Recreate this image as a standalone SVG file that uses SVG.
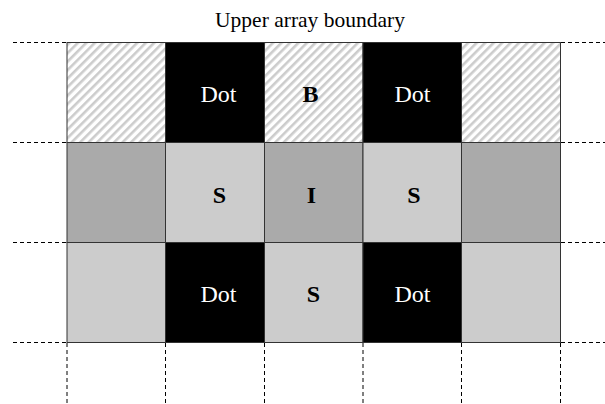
<svg xmlns="http://www.w3.org/2000/svg" width="605" height="404" viewBox="0 0 605 404">
<defs>
<pattern id="hatch" width="6" height="6" patternUnits="userSpaceOnUse" patternTransform="rotate(45)">
<rect width="6" height="6" fill="#ffffff"/>
<rect x="0" y="0" width="2.6" height="6" fill="#cccccc"/>
</pattern>
</defs>
<style>
.cell{stroke:#333333;stroke-width:1}
.hatch{fill:url(#hatch)}
.black{fill:#000000}
.dark{fill:#aaaaaa}
.light{fill:#cccccc}
.dash{stroke:#000000;stroke-width:1;stroke-dasharray:4,3;fill:none}
.lbl{font-family:"Liberation Serif","Times New Roman",serif;font-size:24px;text-anchor:middle}
.dot{fill:#ffffff}
.bold{font-weight:bold;fill:#000000}
.title{font-family:"Liberation Serif","Times New Roman",serif;font-size:21.5px;text-anchor:middle;fill:#000000}
</style>
<text class="title" x="310" y="26.5">Upper array boundary</text>
<g id="connectors">
<line class="dash" x1="13" y1="42.5" x2="67" y2="42.5"/>
<line class="dash" x1="13" y1="142.5" x2="67" y2="142.5"/>
<line class="dash" x1="13" y1="242.5" x2="67" y2="242.5"/>
<line class="dash" x1="13" y1="342.5" x2="67" y2="342.5"/>
<line class="dash" x1="561" y1="42.5" x2="605" y2="42.5"/>
<line class="dash" x1="561" y1="142.5" x2="605" y2="142.5"/>
<line class="dash" x1="561" y1="242.5" x2="605" y2="242.5"/>
<line class="dash" x1="561" y1="342.5" x2="605" y2="342.5"/>
<line class="dash" x1="67" y1="343" x2="67" y2="404"/>
<line class="dash" x1="165.5" y1="343" x2="165.5" y2="404"/>
<line class="dash" x1="264.5" y1="343" x2="264.5" y2="404"/>
<line class="dash" x1="363" y1="343" x2="363" y2="404"/>
<line class="dash" x1="461.5" y1="343" x2="461.5" y2="404"/>
<line class="dash" x1="560.5" y1="343" x2="560.5" y2="404"/>
</g>
<g id="r1c1"><rect class="cell hatch" x="67" y="42.5" width="98.5" height="100"/></g>
<g id="r1c2"><rect class="cell black" x="165.5" y="42.5" width="99" height="100"/><text class="lbl dot" x="218.5" y="101.5">Dot</text></g>
<g id="r1c3"><rect class="cell hatch" x="264.5" y="42.5" width="98.5" height="100"/><text class="lbl bold" x="310.5" y="101.5">B</text></g>
<g id="r1c4"><rect class="cell black" x="363" y="42.5" width="98.5" height="100"/><text class="lbl dot" x="412.5" y="101.5">Dot</text></g>
<g id="r1c5"><rect class="cell hatch" x="461.5" y="42.5" width="99" height="100"/></g>
<g id="r2c1"><rect class="cell dark" x="67" y="142.5" width="98.5" height="100"/></g>
<g id="r2c2"><rect class="cell light" x="165.5" y="142.5" width="99" height="100"/><text class="lbl bold" x="219.5" y="202.5">S</text></g>
<g id="r2c3"><rect class="cell dark" x="264.5" y="142.5" width="98.5" height="100"/><text class="lbl bold" x="311.5" y="202.5">I</text></g>
<g id="r2c4"><rect class="cell light" x="363" y="142.5" width="98.5" height="100"/><text class="lbl bold" x="414" y="202.5">S</text></g>
<g id="r2c5"><rect class="cell dark" x="461.5" y="142.5" width="99" height="100"/></g>
<g id="r3c1"><rect class="cell light" x="67" y="242.5" width="98.5" height="100"/></g>
<g id="r3c2"><rect class="cell black" x="165.5" y="242.5" width="99" height="100"/><text class="lbl dot" x="218.5" y="301.5">Dot</text></g>
<g id="r3c3"><rect class="cell light" x="264.5" y="242.5" width="98.5" height="100"/><text class="lbl bold" x="313.5" y="301.5">S</text></g>
<g id="r3c4"><rect class="cell black" x="363" y="242.5" width="98.5" height="100"/><text class="lbl dot" x="412.5" y="301.5">Dot</text></g>
<g id="r3c5"><rect class="cell light" x="461.5" y="242.5" width="99" height="100"/></g>
</svg>
